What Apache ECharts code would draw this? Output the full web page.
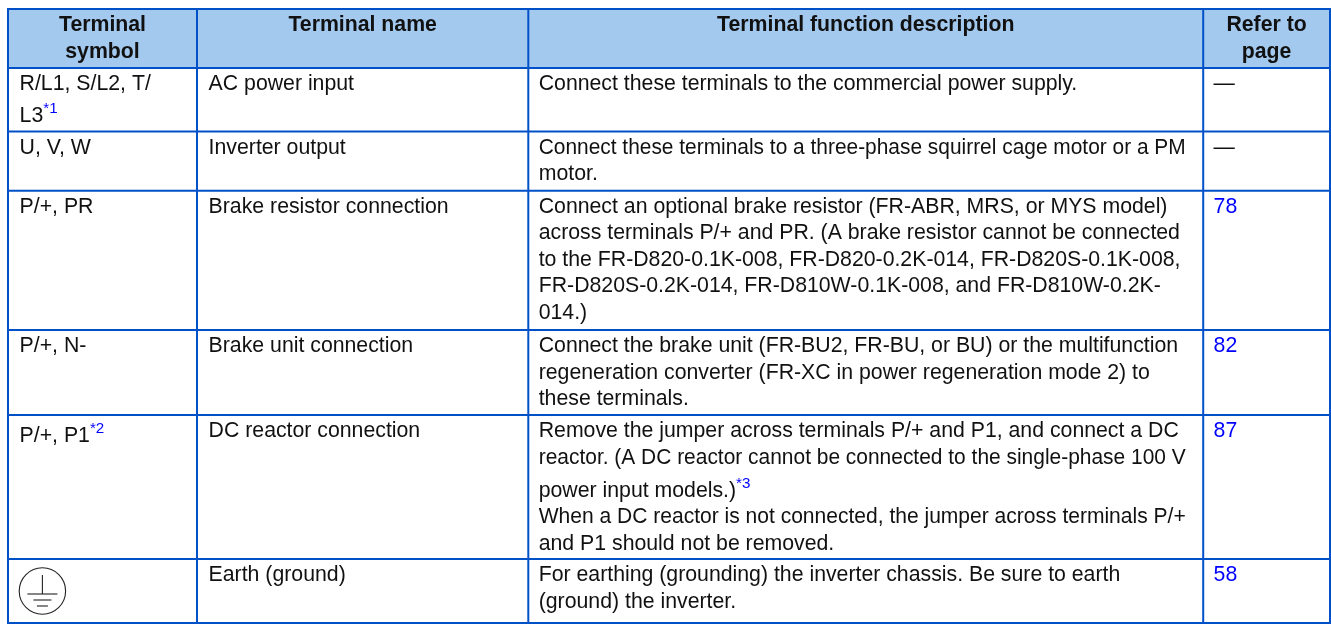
<!DOCTYPE html>
<html><head><meta charset="utf-8"><style>html,body{margin:0;padding:0;background:#fff}#c{width:1331px;height:624px}</style>
<script src="https://cdn.jsdelivr.net/npm/echarts@6/dist/echarts.min.js"></script></head><body><div id="c"></div>
<script>
const columnEdges=[8,197,528.3,1203.2,1330];
const rowEdges=[9,68,131.5,190.7,330,415,559,623];
const headerLines=[["Terminal","symbol"],["Terminal name"],["Terminal function description"],["Refer to","page"]];
const symbols=[["R/L1, S/L2, T/","L3"],["U, V, W"],["P/+, PR"],["P/+, N-"],["P/+, P1"],[]];
const names=["AC power input","Inverter output","Brake resistor connection","Brake unit connection","DC reactor connection","Earth (ground)"];
const descriptions=[
["Connect these terminals to the commercial power supply."],
["Connect these terminals to a three-phase squirrel cage motor or a PM","motor."],
["Connect an optional brake resistor (FR-ABR, MRS, or MYS model)","across terminals P/+ and PR. (A brake resistor cannot be connected","to the FR-D820-0.1K-008, FR-D820-0.2K-014, FR-D820S-0.1K-008,","FR-D820S-0.2K-014, FR-D810W-0.1K-008, and FR-D810W-0.2K-","014.)"],
["Connect the brake unit (FR-BU2, FR-BU, or BU) or the multifunction","regeneration converter (FR-XC in power regeneration mode 2) to","these terminals."],
["Remove the jumper across terminals P/+ and P1, and connect a DC","reactor. (A DC reactor cannot be connected to the single-phase 100 V","power input models.)","When a DC reactor is not connected, the jumper across terminals P/+","and P1 should not be removed."],
["For earthing (grounding) the inverter chassis. Be sure to earth","(ground) the inverter."]];
const pages=["—","—","78","82","87","58"];
const FONT='"Liberation Sans"',SIZE=21.28,LH=26.5,MAXLINE=647,BLUE='#0000ff',INK='#111',RULE='#0050c8';
const mc=document.createElement('canvas').getContext('2d');
const width=(t,bold,size)=>{mc.font=(bold?'bold ':'')+size+'px '+FONT;return mc.measureText(t).width};
const c=echarts.init(document.getElementById('c'),null,{renderer:'canvas'});
function render(p,api){
  const pt=(x,y)=>api.coord([x,y]);
  const ch=[];
  const L=(x1,y1,x2,y2,s)=>{const a=pt(x1,y1),b=pt(x2,y2);ch.push({type:'line',shape:{x1:a[0],y1:a[1],x2:b[0],y2:b[1]},style:Object.assign({stroke:RULE,lineWidth:2},s||{})})};
  const T=(x,y,t,o)=>{o=o||{};const a=pt(x,y);ch.push({type:'text',x:a[0],y:a[1],scaleX:o.scaleX||1,style:{text:t,font:(o.bold?'bold ':'')+(o.size||SIZE)+'px '+FONT,fill:o.fill||INK,align:o.align||'left',verticalAlign:'middle'}})};
  const a=pt(columnEdges[0],rowEdges[0]),b=pt(columnEdges[4],rowEdges[1]);
  ch.push({type:'rect',shape:{x:a[0],y:a[1],width:b[0]-a[0],height:b[1]-a[1]},style:{fill:'#a3c9ef'}});
  rowEdges.forEach(y=>L(columnEdges[0]-1,y,columnEdges[4]+1,y));
  columnEdges.forEach(x=>L(x,rowEdges[0],x,rowEdges[7]));
  headerLines.forEach((ls,i)=>ls.forEach((t,j)=>T((columnEdges[i]+columnEdges[i+1])/2,rowEdges[0]+16+j*27,t,{bold:true,align:'center'})));
  const note=(x,y,t)=>T(x,y-7,t,{size:15.2,fill:BLUE});
  const sx=columnEdges[0]+11.6, nx=columnEdges[1]+11.6, dx=columnEdges[2]+10.4, px=columnEdges[3]+10.4;
  symbols.forEach((ls,r)=>{const y0=rowEdges[r+1]+16.2;
    ls.forEach((t,j)=>{
      const y=y0+(r==4?5:0)+j*(r==0?32:LH);
      T(sx,y,t);
      if(r==0&&j==1)note(sx+width(t,false,SIZE),y,"*1");
      if(r==4)note(sx+width(t,false,SIZE),y,"*2");
    });
    T(nx,y0,names[r]);
    descriptions[r].forEach((t,j)=>{
      const y=y0+j*LH+(r==4&&j>=2?6.5:0);
      const w=width(t,false,SIZE);
      T(dx,y,t,{scaleX:Math.min(1,MAXLINE/w)});
      if(r==4&&j==2)note(dx+w,y,"*3");
    });
    T(px,y0,pages[r],/\d/.test(pages[r])?{fill:BLUE}:{});
  });
  // protective-earth symbol in the last symbol cell
  const ex=(columnEdges[0]+columnEdges[1])/2-60.1, ey=rowEdges[6]+32;
  const e=pt(ex,ey);
  ch.push({type:'circle',shape:{cx:e[0],cy:e[1],r:23.2},style:{fill:'none',stroke:'#222',lineWidth:1.1}});
  const S={stroke:'#222',lineWidth:1.1};
  L(ex,ey-16,ex,ey+3,S);L(ex-15,ey+3,ex+15,ey+3,S);L(ex-9,ey+9,ex+9,ey+9,S);L(ex-5.5,ey+15,ex+5.5,ey+15,S);
  return {type:'group',children:ch};
}
c.setOption({animation:false,
 grid:{left:0,right:0,top:0,bottom:0},
 xAxis:{type:'value',min:0,max:1331,show:false},
 yAxis:{type:'value',min:0,max:624,inverse:true,show:false},
 series:[{type:'custom',coordinateSystem:'cartesian2d',data:[[0,0]],renderItem:render,silent:true}]});
</script></body></html>
